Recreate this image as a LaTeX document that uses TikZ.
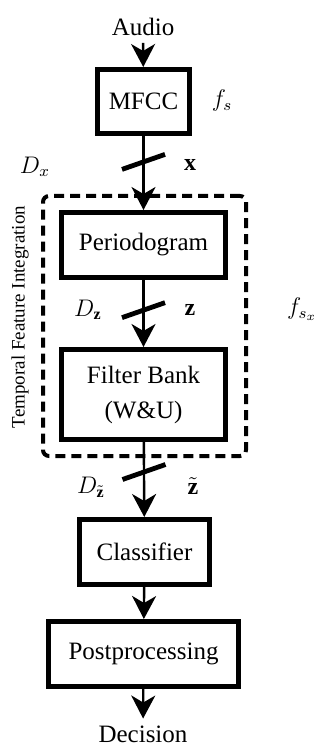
\documentclass[tikz,border=0pt]{standalone}
\usepackage{fontspec}
\setmainfont{Liberation Serif}
\usepackage{amsmath}
\usetikzlibrary{arrows.meta}

\tikzset{
  block/.style={draw, line width=2.5pt, inner sep=0pt, outer sep=1.25pt,
    font=\fontsize{12.5}{17.5}\selectfont, align=center},
  flow/.style={-{Stealth[length=11.5pt,width=12pt,inset=3.5pt]}, line width=1.2pt},
  slash/.style={line width=2.4pt},
  lbl/.style={font=\fontsize{12}{14}\selectfont},
  group/.style={draw, line width=2pt, dash pattern=on 5pt off 3pt,
    rounded corners=3pt, inner sep=0pt},
}

\begin{document}
\begin{tikzpicture}[x=0.5pt,y=-0.5pt]
  \useasboundingbox (0,0) rectangle (321,747);

  % processing chain
  \node[font=\fontsize{12.5}{14}\selectfont] (audio) at (143,27) {Audio};
  \node[block, minimum width=46pt, minimum height=32pt] (mfcc) at (143.5,101.5) {MFCC};
  \node[block, minimum width=82pt, minimum height=32.5pt] (period) at (143.5,245) {Periodogram};
  \node[block, minimum width=82pt, minimum height=45pt] (fbank) at (143.5,394.5) {Filter Bank\\(W\&U)};
  \node[block, minimum width=65pt, minimum height=32.5pt] (clf) at (144.5,552) {Classifier};
  \node[block, minimum width=95pt, minimum height=32.5pt] (post) at (143.5,654) {Postprocessing};
  \node[font=\fontsize{12.5}{14}\selectfont] (dec) at (143,734) {Decision};

  % temporal feature integration group
  \node[group, minimum width=101.5pt, minimum height=130pt] (tfi) at (144.5,326) {};
  \node[rotate=90, font=\fontsize{9.5}{11}\selectfont] (tfilbl) at (20,317) {Temporal Feature Integration};

  \draw[flow] (audio) -- (mfcc);
  \draw[flow] (mfcc) -- coordinate[pos=0.35] (sx) (period);
  \draw[flow] (period) -- coordinate[pos=0.45] (sz) (fbank);
  \draw[flow] (fbank) -- coordinate[pos=0.4] (szt) (clf);
  \draw[flow] (clf) -- (post);
  \draw[flow] (post) -- (dec);

  % bus widths
  \draw[slash] ([shift={(-21.5,7.5)}]sx) -- ([shift={(21.5,-7.5)}]sx);
  \draw[slash] ([shift={(-21.5,7.5)}]sz) -- ([shift={(21.5,-7.5)}]sz);
  \draw[slash] ([shift={(-21.5,7.5)}]szt) -- ([shift={(21.5,-7.5)}]szt);

  % labels
  \node[lbl] (fs) at (222,101) {$f_s$};
  \node[lbl] (dx) at (35,167) {$D_x$};
  \node[lbl] (xv) at (190,165) {$\mathbf{x}$};
  \node[lbl] (dz) at (88,310) {$D_{\mathbf{z}}$};
  \node[lbl] (zv) at (190,310) {$\mathbf{z}$};
  \node[lbl] (fsx) at (302,309) {$f_{s_x}$};
  \node[lbl] (dzt) at (91,487) {$D_{\tilde{\mathbf{z}}}$};
  \node[lbl] (ztv) at (193,486) {$\tilde{\mathbf{z}}$};
\end{tikzpicture}
\end{document}
